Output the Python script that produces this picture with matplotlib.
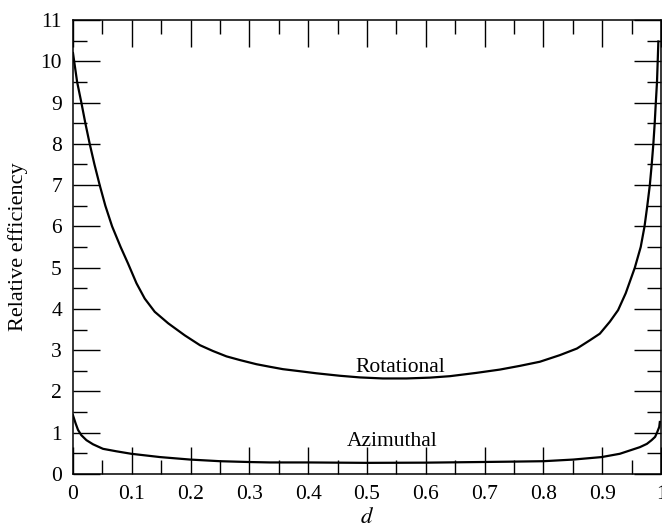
import matplotlib
matplotlib.use("Agg")
import matplotlib.pyplot as plt
from matplotlib.ticker import MultipleLocator

# Rotational efficiency curve
rot_d = [0.0, 0.007, 0.0142, 0.021, 0.0284, 0.0365, 0.0454, 0.055, 0.0665, 0.081,
         0.0936, 0.108, 0.122, 0.139, 0.162, 0.190, 0.216, 0.238, 0.261, 0.284,
         0.312, 0.334, 0.357, 0.386, 0.414, 0.454, 0.488, 0.527, 0.567, 0.607,
         0.641, 0.686, 0.726, 0.760, 0.794, 0.828, 0.857, 0.879, 0.896, 0.913,
         0.927, 0.940, 0.948, 0.9555, 0.9655, 0.972, 0.9767, 0.981, 0.9842, 0.987,
         0.9893, 0.9912, 0.9932, 0.9944, 0.9955]
rot_v = [10.2, 9.5, 9.0, 8.5, 8.0, 7.5, 7.0, 6.5, 6.0, 5.5,
         5.10, 4.62, 4.25, 3.93, 3.65, 3.36, 3.12, 2.98, 2.85, 2.76,
         2.66, 2.60, 2.54, 2.49, 2.44, 2.38, 2.34, 2.315, 2.315, 2.335,
         2.37, 2.45, 2.53, 2.62, 2.72, 2.88, 3.04, 3.24, 3.40, 3.69,
         3.97, 4.38, 4.70, 5.0, 5.5, 6.0, 6.5, 7.0, 7.5, 8.0,
         8.5, 9.0, 9.5, 10.0, 10.48]

# Azimuthal efficiency curve
azi_d = [0.0, 0.0046, 0.0085, 0.0142, 0.0228, 0.034, 0.051, 0.0738, 0.099, 0.148,
         0.199, 0.25, 0.30, 0.335, 0.4, 0.5, 0.6, 0.692, 0.749, 0.80,
         0.851, 0.899, 0.930, 0.947, 0.964, 0.976, 0.984, 0.990, 0.9937, 0.997,
         0.998]
azi_v = [1.42, 1.22, 1.07, 0.94, 0.82, 0.72, 0.61, 0.55, 0.49, 0.41,
         0.35, 0.31, 0.29, 0.28, 0.28, 0.27, 0.275, 0.29, 0.30, 0.31,
         0.35, 0.41, 0.49, 0.57, 0.65, 0.73, 0.82, 0.90, 1.02, 1.14,
         1.26]

x_ticks = [0, 0.1, 0.2, 0.3, 0.4, 0.5, 0.6, 0.7, 0.8, 0.9, 1]
x_labels = ["0", "0.1", "0.2", "0.3", "0.4", "0.5", "0.6", "0.7", "0.8", "0.9", "1"]
y_ticks = list(range(0, 12))
y_labels = [str(v) for v in y_ticks]

plt.rcParams['font.family'] = ['Liberation Serif', 'DejaVu Serif']
plt.rcParams['mathtext.fontset'] = 'stix'

fig = plt.figure(figsize=(6.62, 5.29), dpi=100)
ax = fig.add_axes([73/662, 55/529, 588/662, 454/529])

ax.plot(rot_d, rot_v, color='black', lw=1.6, solid_joinstyle='round')
ax.plot(azi_d, azi_v, color='black', lw=1.6, solid_joinstyle='round')

ax.text(0.556, 2.47, "Rotational", fontsize=15.5, ha='center', va='baseline')
ax.text(0.542, 0.69, "Azimuthal", fontsize=15.5, ha='center', va='baseline')

ax.set_xlim(0, 1)
ax.set_ylim(0, 11)
ax.set_xticks(x_ticks)
ax.set_xticklabels(x_labels)
ax.set_yticks(y_ticks)
ax.set_yticklabels(y_labels)
ax.xaxis.set_minor_locator(MultipleLocator(0.05))
ax.yaxis.set_minor_locator(MultipleLocator(0.5))
ax.tick_params(which='both', direction='in', top=True, right=True,
               labelsize=15.5, width=1.0, color='black')
ax.tick_params(which='major', length=19.5, pad=8)
ax.tick_params(which='minor', length=10)
for s in ax.spines.values():
    s.set_linewidth(1.1)

ax.set_xlabel("$d$", fontsize=16.5, labelpad=2)
ax.set_ylabel("Relative efficiency", fontsize=16, labelpad=9)

fig.savefig("out.png", dpi=100)
